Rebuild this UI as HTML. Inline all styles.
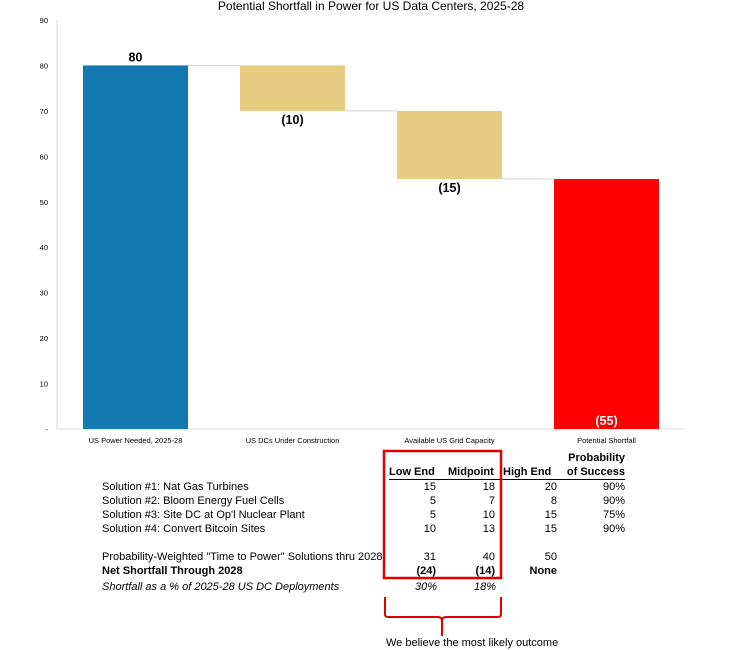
<!DOCTYPE html>
<html><head><meta charset="utf-8"><style>
body{margin:0;background:#fff;font-family:"Liberation Sans",Arial,sans-serif;}
#wrap{position:relative;width:743px;height:650px;overflow:hidden;}
svg{position:absolute;left:0;top:0}
.t{position:absolute;font-size:11px;color:#000;white-space:nowrap;line-height:13px}
.r{text-align:right}
</style></head><body>
<div id="wrap">
<svg id="chart" width="743" height="650"></svg>

<div class="t" style="left:102px;top:481px">Solution #1: Nat Gas Turbines</div>
<div class="t" style="left:102px;top:495px">Solution #2: Bloom Energy Fuel Cells</div>
<div class="t" style="left:102px;top:509px">Solution #3: Site DC at Op'l Nuclear Plant</div>
<div class="t" style="left:102px;top:523px">Solution #4: Convert Bitcoin Sites</div>
<div class="t" style="left:102px;top:551px">Probability-Weighted "Time to Power" Solutions thru 2028</div>
<div class="t" style="left:102px;top:565px;font-weight:bold">Net Shortfall Through 2028</div>
<div class="t" style="left:102px;top:581px;font-style:italic">Shortfall as a % of 2025-28 US DC Deployments</div>
<div id="tbl"></div>
<div class="t" style="left:386px;top:637px">We believe the most likely outcome</div>
</div>
<script>
const categories=["US Power Needed, 2025-28","US DCs Under Construction","Available US Grid Capacity","Potential Shortfall"];
const barTops=[80,80,70,55];
const barBottoms=[0,70,55,0];
const barLabels=["80","(10)","(15)","(55)"];
const yTicks=[0,10,20,30,40,50,60,70,80,90];
const yTickLabels=["-","10","20","30","40","50","60","70","80","90"];
const colors=["#1479b0","#e8cc82","#e8cc82","#ff0000"];

const svg=document.getElementById('chart');
const NS="http://www.w3.org/2000/svg";
const x0=57,bandW=157,barW=105;
const y=v=>429-v*(409/90);
const xc=i=>x0+bandW*(i+0.5);
function mk(tag,attrs,parent){const e=document.createElementNS(NS,tag);for(const k in attrs)e.setAttribute(k,attrs[k]);(parent||svg).appendChild(e);return e;}

const title=mk('text',{x:371,y:10,'text-anchor':'middle','font-size':12,'font-family':'Liberation Sans'});
title.textContent="Potential Shortfall in Power for US Data Centers, 2025-28";



const ax=mk('line',{x1:x0,y1:y(90),x2:x0,y2:y(0),stroke:'#d9d9d9','stroke-width':1});


const bx=mk('line',{x1:x0,y1:y(0),x2:x0+bandW*4,y2:y(0),stroke:'#d9d9d9','stroke-width':1});



yTicks.forEach((v,i)=>{
 const t=mk('text',{x:48,y:y(v)+3,'text-anchor':'end','font-size':7.5,fill:'#000','font-family':'Liberation Sans'});
 t.textContent=yTickLabels[i];
 
 
});

categories.forEach((c,i)=>{
 if(i<categories.length-1){
  const lvl=(i===0)?barTops[0]:barBottoms[i];
  const ln=mk('line',{x1:xc(i)+barW/2,y1:y(lvl),x2:xc(i+1)-barW/2,y2:y(lvl),stroke:'#d0d0d0','stroke-width':1});
  
  
 }
 const r=mk('rect',{x:xc(i)-barW/2,y:y(barTops[i]),width:barW,height:y(barBottoms[i])-y(barTops[i]),fill:colors[i]});
 
 
 let ly,fill='#000';
 if(i===0) ly=y(barTops[i])-4;
 else if(i===categories.length-1){ly=y(0)-4;fill='#fff';}
 else ly=y(barBottoms[i])+13;
 const l=mk('text',{x:xc(i),y:ly,'text-anchor':'middle','font-size':12.5,'font-weight':'bold',fill:fill,'font-family':'Liberation Sans'});
 l.textContent=barLabels[i];
 
 
 const cl=mk('text',{x:xc(i),y:443,'text-anchor':'middle','font-size':7.5,'font-family':'Liberation Sans'});
 cl.textContent=c;
 
 
});

// table
const colRights=[436,495,557,625];
const rows=[["15","18","20","90%"],["5","7","8","90%"],["5","10","15","75%"],["10","13","15","90%"]];
const rowTops=[481,495,509,523];
const tbl=document.getElementById('tbl');
function cell(txt,right,top,style,name){
 const d=document.createElement('div');
 d.className='t r';d.style.cssText='right:'+(743-right)+'px;top:'+top+'px;'+(style||'');
 d.textContent=txt;
 
 
 tbl.appendChild(d);
}
function lcell(txt,left,top,style,name){
 const d=document.createElement('div');
 d.className='t';d.style.cssText='left:'+left+'px;top:'+top+'px;'+(style||'');
 d.textContent=txt;
 
 
 tbl.appendChild(d);
}
cell("Probability",625,452,'font-weight:bold','header-probability');
lcell("Low End",389,466,'font-weight:bold','column-header-low');
lcell("Midpoint",448,466,'font-weight:bold','column-header-mid');
lcell("High End",503,466,'font-weight:bold','column-header-high');
cell("of Success",625,466,'font-weight:bold','column-header-prob');
rows.forEach((r,i)=>r.forEach((v,j)=>cell(v,colRights[j],rowTops[i],'','table-cell')));
["31","40","50"].forEach((v,j)=>cell(v,colRights[j],551,'','weighted-cell'));
cell("(24)",colRights[0],565,'font-weight:bold','net-cell');
cell("(14)",colRights[1],565,'font-weight:bold','net-cell');
cell("None",557,565,'font-weight:bold','net-cell');
cell("30%",colRights[0]+1,581,'font-style:italic','pct-cell');
cell("18%",colRights[1]+1,581,'font-style:italic','pct-cell');

const ul=mk('line',{x1:389,y1:479.5,x2:625,y2:479.5,stroke:'#000','stroke-width':1});


const box=mk('rect',{x:384,y:451,width:117,height:127,fill:'none',stroke:'#e00000','stroke-width':2.5});


const br=mk('path',{d:'M385 597 V614 Q385 617 388 617 H438 Q442 617 442 621 V636 M442 621 Q442 617 446 617 H498 Q501 617 501 614 V597',fill:'none',stroke:'#e00000','stroke-width':2});


</script>
</body></html>
